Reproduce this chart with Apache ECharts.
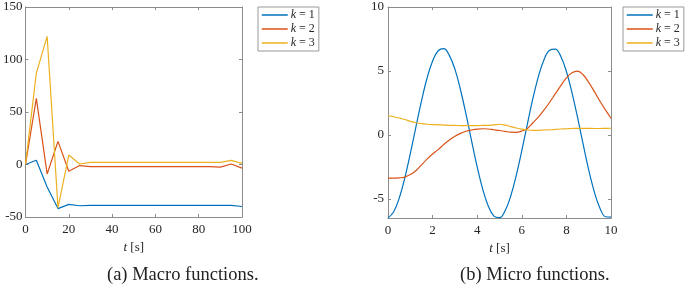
<!DOCTYPE html>
<html>
<head>
<meta charset="utf-8">
<script src="https://cdn.jsdelivr.net/npm/echarts@6/dist/echarts.min.js"></script>
<style>
  html, body { margin: 0; padding: 0; background: #fff; }
  #main { width: 685px; height: 290px; }
</style>
</head>
<body>
<div id="main"></div>
<script>
// ---- data ----
var names = ['k = 1', 'k = 2', 'k = 3'];

// (a) macro functions, sampled every 5 s
var tMacro = [0, 5, 10, 15, 20, 25, 30, 35, 40, 45, 50, 55, 60, 65, 70, 75, 80, 85, 90, 95, 100];
var macroK1 = [0, 4, -21.5, -42, -38, -39.3, -39, -39, -39, -39, -39, -39, -39, -39, -39, -39, -39, -39, -39, -39, -40];
var macroK2 = [0, 63, -9, 22, -6.5, -1, -2, -2, -2, -2, -2, -2, -2, -2, -2, -2, -2, -2, -2.5, 0.5, -3.5];
var macroK3 = [0, 87, 122, -41, 9, 0.5, 2, 2, 2, 2, 2, 2, 2, 2, 2, 2, 2, 2, 2, 4, 1];

// (b) micro functions, sampled every 0.25 s
var tMicro = [0, 0.25, 0.5, 0.75, 1, 1.25, 1.5, 1.75, 2, 2.25, 2.5, 2.75, 3, 3.25, 3.5, 3.75, 4, 4.25, 4.5, 4.75,
              5, 5.25, 5.5, 5.75, 6, 6.25, 6.5, 6.75, 7, 7.25, 7.5, 7.75, 8, 8.25, 8.5, 8.75, 9, 9.25, 9.5, 9.75, 10];
var microK1 = [-6.49, -6.03, -4.97, -3.40, -1.47, 0.60, 2.64, 4.43, 5.78, 6.58, 6.74, 6.22, 5.14, 3.53, 1.60, -0.48, -2.51, -4.26, -5.58, -6.35,
               -6.47, -5.93, -4.80, -3.18, -1.23, 0.85, 2.87, 4.60, 5.90, 6.62, 6.70, 6.13, 4.96, 3.30, 1.36, -0.73, -2.74, -4.45, -5.71, -6.40, -6.43];
var microK2 = [-3.38, -3.38, -3.36, -3.3, -3.1, -2.8, -2.35, -1.9, -1.5, -1.15, -0.75, -0.4, -0.1, 0.12, 0.28, 0.38, 0.45, 0.48, 0.46, 0.4,
               0.34, 0.27, 0.21, 0.2, 0.3, 0.5, 0.95, 1.4, 1.95, 2.55, 3.2, 3.85, 4.45, 4.85, 4.98, 4.7, 4.1, 3.4, 2.65, 1.95, 1.3];
var microK3 = [1.48, 1.42, 1.32, 1.2, 1.06, 0.95, 0.88, 0.83, 0.8, 0.79, 0.77, 0.75, 0.74, 0.73, 0.73, 0.73, 0.73, 0.74, 0.75, 0.78,
               0.83, 0.76, 0.65, 0.54, 0.45, 0.39, 0.36, 0.36, 0.38, 0.4, 0.43, 0.46, 0.48, 0.5, 0.51, 0.51, 0.51, 0.5, 0.5, 0.51, 0.52];

var macroTicksY = [-50, 0, 50, 100, 150];
var microTicksY = [-5, 0, 5, 10];

// ---- styling ----
var colors = ['#0072BD', '#D95319', '#EDB120'];
var serif = 'Liberation Serif';
var boxColor = '#8c8c8c';
var textColor = '#262626';

function pairs(xs, ys) {
    return xs.map(function (x, i) { return [x, ys[i]]; });
}

function xAx(grid, min, max, interval, top) {
    return {
        type: 'value', gridIndex: grid, min: min, max: max, interval: interval,
        position: top ? 'top' : 'bottom',
        axisLine: { show: true, onZero: false, lineStyle: { color: boxColor, width: 1 } },
        axisTick: { inside: true, length: 3, lineStyle: { color: boxColor } },
        axisLabel: { show: !top, margin: 6, color: textColor, fontFamily: serif, fontSize: 13 },
        splitLine: { show: false },
        name: top ? '' : '{i|t} [s]',
        nameLocation: 'middle', nameGap: 16,
        nameTextStyle: { color: textColor, fontFamily: serif, fontSize: 13,
            rich: { i: { fontStyle: 'italic', fontFamily: serif, fontSize: 13, color: textColor } } }
    };
}

function yAx(grid, min, max, ticks, right, margin) {
    return {
        type: 'value', gridIndex: grid, min: min, max: max,
        position: right ? 'right' : 'left',
        axisLine: { show: true, onZero: false, lineStyle: { color: boxColor, width: 1 } },
        axisTick: { inside: true, length: 3, customValues: ticks, lineStyle: { color: boxColor } },
        axisLabel: { show: !right, margin: margin, customValues: ticks, color: textColor, fontFamily: serif, fontSize: 13 },
        splitLine: { show: false }
    };
}

function legendAt(left) {
    return {
        left: left, top: 7, orient: 'vertical',
        data: names,
        backgroundColor: '#fff', borderColor: '#999', borderWidth: 1, borderRadius: 0,
        padding: [2, 4, 2, 3], itemGap: 2, itemWidth: 26, itemHeight: 10,
        selectedMode: false,
        itemStyle: { opacity: 0 },
        lineStyle: { width: 1.5 },
        formatter: function (n) { return '{i|k}' + n.slice(1); },
        textStyle: { color: textColor, fontFamily: serif, fontSize: 12, lineHeight: 10, padding: [0, 0, 0, -2],
            rich: { i: { fontStyle: 'italic', fontFamily: serif, fontSize: 12, lineHeight: 10, color: textColor } } }
    };
}

function line(name, xi, data, color, smooth) {
    return {
        name: name, type: 'line', xAxisIndex: xi, yAxisIndex: xi,
        data: data, showSymbol: false, symbol: 'none', smooth: smooth,
        lineStyle: { color: color, width: 1.2 }, itemStyle: { color: color },
        animation: false
    };
}

var myChart = echarts.init(document.getElementById('main'));

var option = {
    color: colors,
    animation: false,
    grid: [
        { left: 23, top: 7, width: 219, height: 210, show: false },
        { left: 388, top: 7, width: 223, height: 211, show: false }
    ],
    xAxis: [
        xAx(0, 0, 100, 20, false),
        xAx(0, 0, 100, 20, true),
        xAx(1, 0, 10, 2, false),
        xAx(1, 0, 10, 2, true)
    ],
    yAxis: [
        yAx(0, -50, 150, macroTicksY, false, 3),
        yAx(0, -50, 150, macroTicksY, true, 3),
        yAx(1, -6.5, 10, microTicksY, false, 4),
        yAx(1, -6.5, 10, microTicksY, true, 4)
    ],
    legend: [legendAt(258), legendAt(623)],
    series: [
        line(names[0], 0, pairs(tMacro, macroK1), colors[0], false),
        line(names[1], 0, pairs(tMacro, macroK2), colors[1], false),
        line(names[2], 0, pairs(tMacro, macroK3), colors[2], false),
        line(names[0], 2, pairs(tMicro, microK1), colors[0], 0.4),
        line(names[1], 2, pairs(tMicro, microK2), colors[1], 0.4),
        line(names[2], 2, pairs(tMicro, microK3), colors[2], 0.4)
    ],
    graphic: [
        { type: 'text', left: 107, top: 266,
          style: { text: '(a) Macro functions.', font: '18.5px "Liberation Serif"', fill: '#222' } },
        { type: 'text', left: 460, top: 266,
          style: { text: '(b) Micro functions.', font: '18.5px "Liberation Serif"', fill: '#222' } }
    ]
};
myChart.setOption(option);
window.addEventListener('resize', function () { myChart.resize(); });
</script>
</body>
</html>
